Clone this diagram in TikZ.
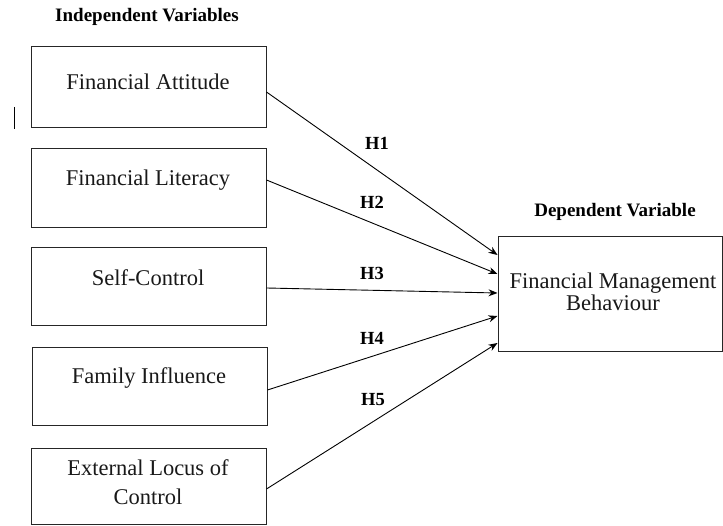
\documentclass[tikz,border=0pt]{standalone}
\usepackage{fontspec}
\setmainfont{Liberation Serif}
\usetikzlibrary{arrows.meta}
\begin{document}
\begin{tikzpicture}[x=1pt,y=-1pt,
  varbox/.style={draw=black!85, line width=1pt, minimum width=235pt, inner sep=0pt},
  boxtext/.style={font=\fontsize{22.5}{29}\selectfont, align=center, inner sep=0pt, text=black!90},
  headtext/.style={font=\fontsize{19}{20}\selectfont\bfseries, inner sep=0pt},
  hlabel/.style={font=\fontsize{18.5}{20}\selectfont\bfseries, inner sep=0pt},
  link/.style={line width=0.9pt, -{Stealth[length=9pt,width=7pt]}}]
\useasboundingbox (0,0) rectangle (723,526);
% headings
\node[headtext] (hi) at (147,17) {Independent Variables};
\node[headtext] (hd) at (615,212) {Dependent Variable};
% left boxes
\node[varbox, minimum height=81pt] (b1) at (148.5,87.5) {};
\node[varbox, minimum height=79pt] (b2) at (148.5,188.5) {};
\node[varbox, minimum height=78pt] (b3) at (148.5,287) {};
\node[varbox, minimum height=78pt] (b4) at (149.5,387) {};
\node[varbox, minimum height=76pt] (b5) at (148.5,486) {};
\node[boxtext] (t1) at (148,82) {Financial Attitude};
\node[boxtext] (t2) at (148,180) {Financial Literacy};
\node[boxtext] (t3) at (148,278) {Self-Control};
\node[boxtext] (t4) at (149,378) {Family Influence};
\node[boxtext] (t5) at (148,482) {External Locus of\\Control};
% right box
\node[varbox, minimum width=224pt, minimum height=115pt] (rb) at (610,294.5) {};
\node[boxtext, font=\fontsize{22.5}{20}\selectfont] (rt) at (613,292) {Financial Management\\Behaviour};
% stray mark
\coordinate (m1) at (14,107);
\coordinate (m2) at (14,129);
\draw[line width=0.8pt] (m1) -- (m2);
% connector start/end points
\coordinate (s1) at (b1.east |- 0,92);
\coordinate (s2) at (b2.east |- 0,180);
\coordinate (s3) at (b3.east |- 0,288);
\coordinate (s4) at (b4.east |- 0,390);
\coordinate (s5) at (b5.east |- 0,489);
\coordinate (e1) at (rb.west |- 0,255);
\coordinate (e2) at (rb.west |- 0,274);
\coordinate (e3) at (rb.west |- 0,293);
\coordinate (e4) at (rb.west |- 0,316);
\coordinate (e5) at (rb.west |- 0,343);
\draw[link] (s1) -- (e1);
\draw[link] (s2) -- (e2);
\draw[link] (s3) -- (e3);
\draw[link] (s4) -- (e4);
\draw[link] (s5) -- (e5);
% hypothesis labels
\node[hlabel] (h1) at (377,143) {H1};
\node[hlabel] (h2) at (372,202) {H2};
\node[hlabel] (h3) at (372,273) {H3};
\node[hlabel] (h4) at (372,338) {H4};
\node[hlabel] (h5) at (373,400) {H5};
\end{tikzpicture}
\end{document}
